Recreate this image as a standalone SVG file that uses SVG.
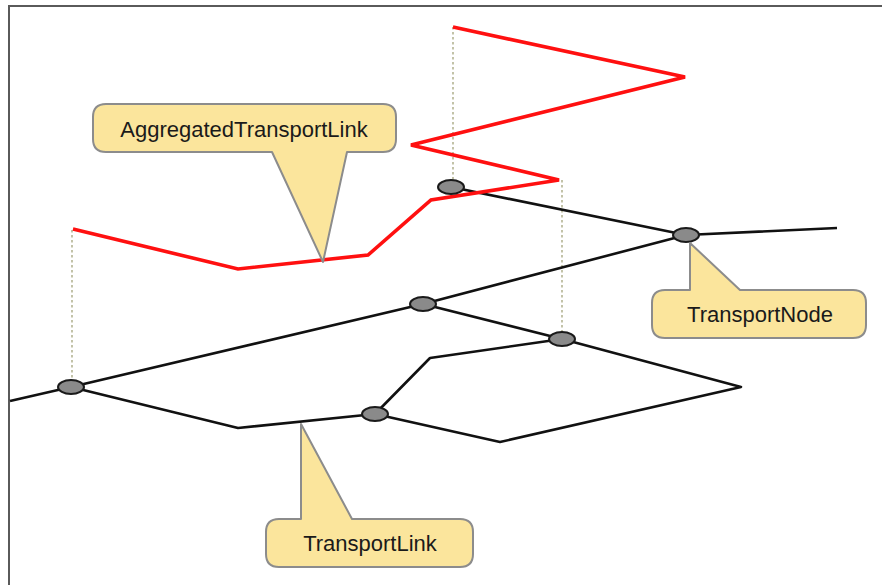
<svg xmlns="http://www.w3.org/2000/svg" width="882" height="585" viewBox="0 0 882 585">
  <style>
    .frame { fill: none; stroke: #5a5a5a; stroke-width: 2; }
    .link { fill: none; stroke: #111; stroke-width: 2.6; stroke-linejoin: round; }
    .agg { fill: none; stroke: #ff1010; stroke-width: 3.6; stroke-linejoin: miter; }
    .drop { fill: none; stroke: #a3a37a; stroke-width: 1.3; stroke-dasharray: 2.5 2.5; }
    .node { fill: #8a8a8a; stroke: #1a1a1a; stroke-width: 2; }
    .callout { fill: #fbe59c; stroke: #8c8c8c; stroke-width: 2; stroke-linejoin: round; }
    .label { font-family: "Liberation Sans", Arial, sans-serif; font-size: 22px; fill: #1a1a1a; text-anchor: middle; }
  </style>

  <!-- outer frame -->
  <path class="frame" d="M 9 585 V 6 H 882"/>

  <g id="connectors">
    <!-- projection guides from the aggregated link down to nodes -->
    <line class="drop" x1="72" y1="230" x2="72" y2="386"/>
    <line class="drop" x1="453" y1="27" x2="453" y2="186"/>
    <line class="drop" x1="562" y1="180" x2="562" y2="338"/>

    <!-- transport links -->
    <polyline class="link" points="10,401 71,387"/>
    <polyline class="link" points="71,387 423,304 686,235 837,228"/>
    <polyline class="link" points="451,187 686,235"/>
    <polyline class="link" points="423,304 562,339"/>
    <polyline class="link" points="71,387 238,428 375,414"/>
    <polyline class="link" points="375,414 430,358 562,339"/>
    <polyline class="link" points="562,339 741,387 500,442 375,414"/>

    <!-- aggregated transport link -->
    <polyline class="agg" points="73,229 238,269 368,255 431,200 559,180 411,145 685,77 453,27"/>
  </g>

  <g id="node-1"><ellipse class="node" cx="451" cy="187" rx="13" ry="7"/></g>
  <g id="node-2"><ellipse class="node" cx="686" cy="235" rx="13" ry="7"/></g>
  <g id="node-3"><ellipse class="node" cx="423" cy="304" rx="13" ry="7"/></g>
  <g id="node-4"><ellipse class="node" cx="562" cy="339" rx="13" ry="7"/></g>
  <g id="node-5"><ellipse class="node" cx="71" cy="387" rx="13" ry="7"/></g>
  <g id="node-6"><ellipse class="node" cx="375" cy="414" rx="13" ry="7"/></g>

  <g id="callout-aggregated">
    <path class="callout" d="M 106 104 H 383 Q 396 104 396 117 V 139 Q 396 152 383 152 H 347 L 323 262 L 272 152 H 106 Q 93 152 93 139 V 117 Q 93 104 106 104 Z"/>
    <text class="label" x="244" y="137">AggregatedTransportLink</text>
  </g>

  <g id="callout-node">
    <path class="callout" d="M 665 290 H 690 V 243 L 740 290 H 853 Q 866 290 866 303 V 325 Q 866 338 853 338 H 665 Q 652 338 652 325 V 303 Q 652 290 665 290 Z"/>
    <text class="label" x="760" y="322">TransportNode</text>
  </g>

  <g id="callout-link">
    <path class="callout" d="M 279 519 H 301 V 424 L 352 519 H 460 Q 473 519 473 532 V 554 Q 473 567 460 567 H 279 Q 266 567 266 554 V 532 Q 266 519 279 519 Z"/>
    <text class="label" x="370" y="551">TransportLink</text>
  </g>
</svg>
